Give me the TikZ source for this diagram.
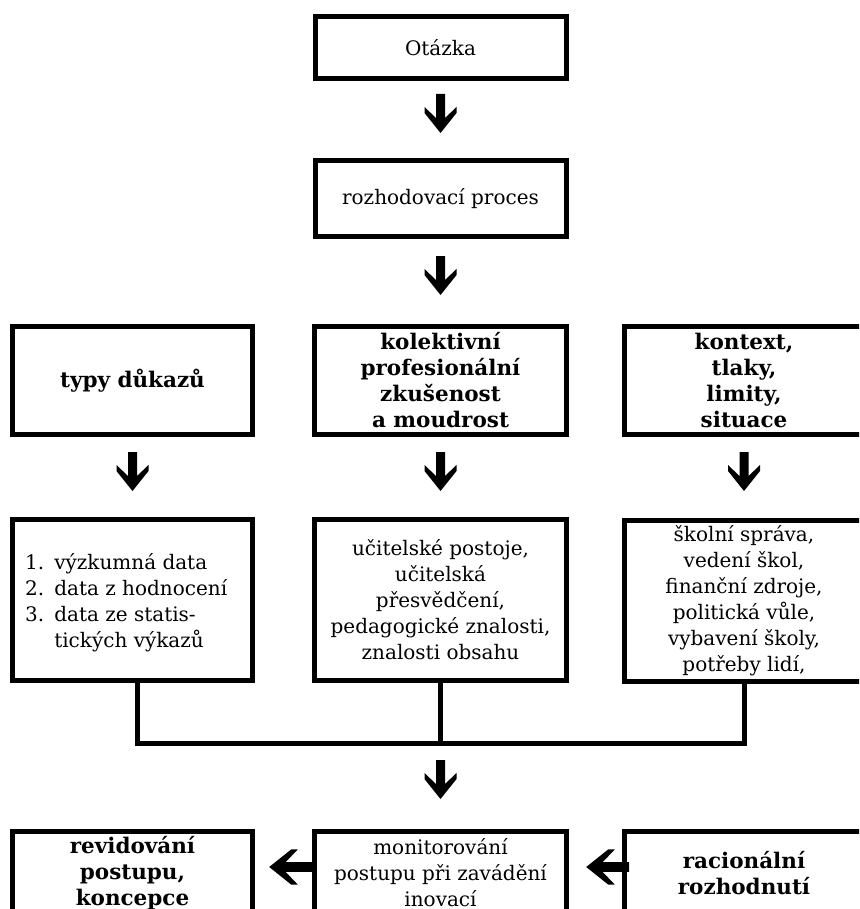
\documentclass[tikz,border=0pt]{standalone}
\usepackage{fontspec}
\setmainfont{DejaVu Serif}
\usetikzlibrary{calc}
\newcommand\diagfont{\fontsize{20}{26}\selectfont}
\newcommand\diagbold{\fontsize{21.5}{26}\selectfont\bfseries}
\tikzset{
  box/.style={draw, line width=5pt, inner sep=0pt, align=center, font=\diagfont},
  txt/.style={inner sep=0pt, align=center, font=\diagfont},
  downarr/.pic={\fill (-4.5,-1) -- (4.5,-1) -- (4.5,23) -- (16,12) -- (16,18) -- (0,38) -- (-16,18) -- (-16,12) -- (-4.5,23) -- cycle;}
}
\begin{document}
\begin{tikzpicture}[x=1pt,y=-1pt,line join=miter]
\useasboundingbox (0,0) rectangle (859,909);
\clip (0,0) rectangle (859,909);
% arrows
\pic at (440.5,95) {downarr};
\pic at (440.5,257) {downarr};
\pic at (132.5,453) {downarr};
\pic at (440.5,453) {downarr};
\pic at (744,453) {downarr};
\pic at (440.5,761) {downarr};
\pic[rotate=-90,scale=1.1] at (311,867) {downarr};
\pic[rotate=-90,scale=1.1] at (628,867) {downarr};
% top boxes
\node[box, minimum width=251pt, minimum height=62pt] (q) at (440.5,48) {Otázka};
\node[box, minimum width=251pt, minimum height=76pt] (p) at (440.5,198.5) {rozhodovací proces};
% row 1
\node[box, minimum width=240pt, minimum height=108pt, font=\diagbold] (t1) at (132.5,380.5) {typy důkazů};
\node[box, minimum width=252pt, minimum height=108pt, font=\diagbold] (t2) at (440.5,380.5) {kolektivní\\profesionální\\zkušenost\\a moudrost};
\node[box, minimum width=240pt, minimum height=108pt, font=\diagbold] (t3) at (744,380.5) {kontext,\\tlaky,\\limity,\\situace};
% row 2
\node[box, minimum width=240pt, minimum height=161pt] (d1) at (132.5,600) {};
\node[txt, anchor=west] (l1) at (25,603) {\begin{tabular}{@{}l@{\hspace{10pt}}l@{}}1. & výzkumná data\\2. & data z hodnocení\\3. & data ze statis-\\ & tických výkazů\end{tabular}};
\node[box, minimum width=252pt, minimum height=161pt] (d2) at (440.5,600) {učitelské postoje,\\učitelská\\přesvědčení,\\pedagogické znalosti,\\znalosti obsahu};
\node[box, minimum width=240pt, minimum height=161pt] (d3) at (744,601) {školní správa,\\vedení škol,\\finanční zdroje,\\politická vůle,\\vybavení školy,\\potřeby lidí,};
% connectors
\coordinate (j) at (440.5,743);
\draw[line width=5pt] (d1.south -| 137,0) |- (j) -| (d3.south);
\draw[line width=5pt] (d2.south) -- (j);
% bottom row
\node[box, minimum width=240pt, minimum height=120pt, anchor=north] (b1) at (132.5,828.5) {};
\node[box, minimum width=252pt, minimum height=120pt, anchor=north] (b2) at (440.5,828.5) {};
\node[box, minimum width=240pt, minimum height=120pt, anchor=north] (b3) at (744,828.5) {};
\node[txt, font=\diagbold] (bt1) at (132.5,873) {revidování\\postupu,\\koncepce};
\node[txt] (bt2) at (440.5,873) {monitorování\\postupu při zavádění\\inovací};
\node[txt, font=\diagbold] (bt3) at (744,873) {racionální\\rozhodnutí};
\end{tikzpicture}
\end{document}
